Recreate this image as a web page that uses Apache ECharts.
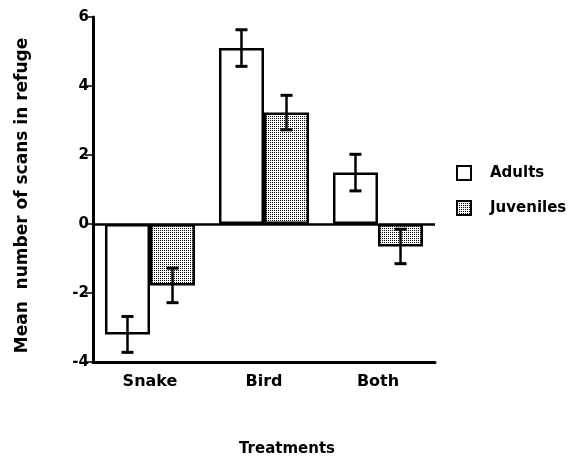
<!DOCTYPE html>
<html>
<head>
<meta charset="utf-8">
<script src="https://cdn.jsdelivr.net/npm/echarts@6/dist/echarts.min.js"></script>
<style>
  html, body { margin: 0; padding: 0; background: #fff; }
  #chart { width: 575px; height: 457px; }
</style>
</head>
<body>
<div id="chart"></div>
<script>
// values
const treatments = ['Snake', 'Bird', 'Both']
const adults = [-3.2, 5.1, 1.49]
const adultsErr = [0.52, 0.53, 0.53]
const juveniles = [-1.78, 3.23, -0.65]
const juvenilesErr = [0.5, 0.5, 0.5]

// stipple fill for the juveniles bars
const dots = document.createElement('canvas')
dots.width = 2
dots.height = 2
const dctx = dots.getContext('2d')
dctx.fillStyle = '#fff'
dctx.fillRect(0, 0, 2, 2)
dctx.fillStyle = '#000'
dctx.fillRect(0, 0, 1, 1)

const font = '"DejaVu Sans", "Liberation Sans", sans-serif'
const gapRatio = 0.21

function errorSeries(values, errs, side) {
  return {
    type: 'custom',
    z: 5,
    data: values.map((v, i) => [i, v, errs[i]]),
    encode: { x: 0, y: 1 },
    renderItem: (params, api) => {
      const band = api.size([1, 0])[0]
      const dx = side * band * (1 - gapRatio) / 4
      const top = api.coord([api.value(0), api.value(1) + api.value(2)])
      const bottom = api.coord([api.value(0), api.value(1) - api.value(2)])
      const x = top[0] + dx
      const half = 6
      const stem = { stroke: '#000', lineWidth: 2.5 }
      const cap = { stroke: '#000', lineWidth: 3 }
      return {
        type: 'group',
        children: [
          { type: 'line', shape: { x1: x, y1: top[1], x2: x, y2: bottom[1] }, style: stem },
          { type: 'line', shape: { x1: x - half, y1: top[1], x2: x + half, y2: top[1] }, style: cap },
          { type: 'line', shape: { x1: x - half, y1: bottom[1], x2: x + half, y2: bottom[1] }, style: cap }
        ]
      }
    }
  }
}

const chart = echarts.init(document.getElementById('chart'))
chart.setOption({
  animation: false,
  textStyle: { fontFamily: font },
  grid: { left: 93, right: 140, top: 17, bottom: 95, outerBoundsMode: 'none' },
  legend: {
    data: ['Adults', 'Juveniles'],
    orient: 'vertical',
    icon: 'rect',
    left: 456,
    top: 165,
    padding: 0,
    itemWidth: 14,
    itemHeight: 14,
    itemGap: 19,
    textStyle: { fontSize: 15, fontWeight: 'bold', color: '#000', padding: [0, 0, 0, 14] }
  },
  xAxis: {
    type: 'category',
    data: treatments,
    name: 'Treatments',
    nameLocation: 'middle',
    nameGap: 80,
    nameTextStyle: { fontSize: 15, fontWeight: 'bold', color: '#000', padding: [0, 0, 0, 46] },
    axisLine: { onZero: false, lineStyle: { color: '#000', width: 3 } },
    axisTick: { alignWithLabel: true, length: 6, lineStyle: { color: '#000', width: 1.5 } },
    axisLabel: { fontSize: 16, fontWeight: 'bold', color: '#000', margin: 12 }
  },
  yAxis: {
    type: 'value',
    min: -4,
    max: 6,
    interval: 2,
    name: 'Mean  number of scans in refuge',
    nameLocation: 'middle',
    nameGap: 62,
    nameTextStyle: { fontSize: 17, fontWeight: 'bold', color: '#000', padding: [0, 12, 0, 0] },
    axisLine: { show: true, lineStyle: { color: '#000', width: 3 } },
    axisTick: { show: true, length: 8, lineStyle: { color: '#000', width: 1.5 } },
    axisLabel: { fontSize: 15, fontWeight: 'bold', color: '#000', margin: 4 },
    splitLine: { show: false }
  },
  series: [
    {
      name: 'Adults',
      type: 'bar',
      data: adults,
      barGap: '0%',
      barCategoryGap: gapRatio * 100 + '%',
      itemStyle: { color: '#fff', borderColor: '#000', borderWidth: 2.5 },
      markLine: {
        silent: true,
        symbol: 'none',
        label: { show: false },
        lineStyle: { color: '#000', width: 2.5, type: 'solid' },
        data: [{ yAxis: 0 }]
      }
    },
    {
      name: 'Juveniles',
      type: 'bar',
      data: juveniles,
      itemStyle: { color: { image: dots, repeat: 'repeat' }, borderColor: '#000', borderWidth: 2.5 }
    },
    errorSeries(adults, adultsErr, -1),
    errorSeries(juveniles, juvenilesErr, 1)
  ]
})
</script>
</body>
</html>
